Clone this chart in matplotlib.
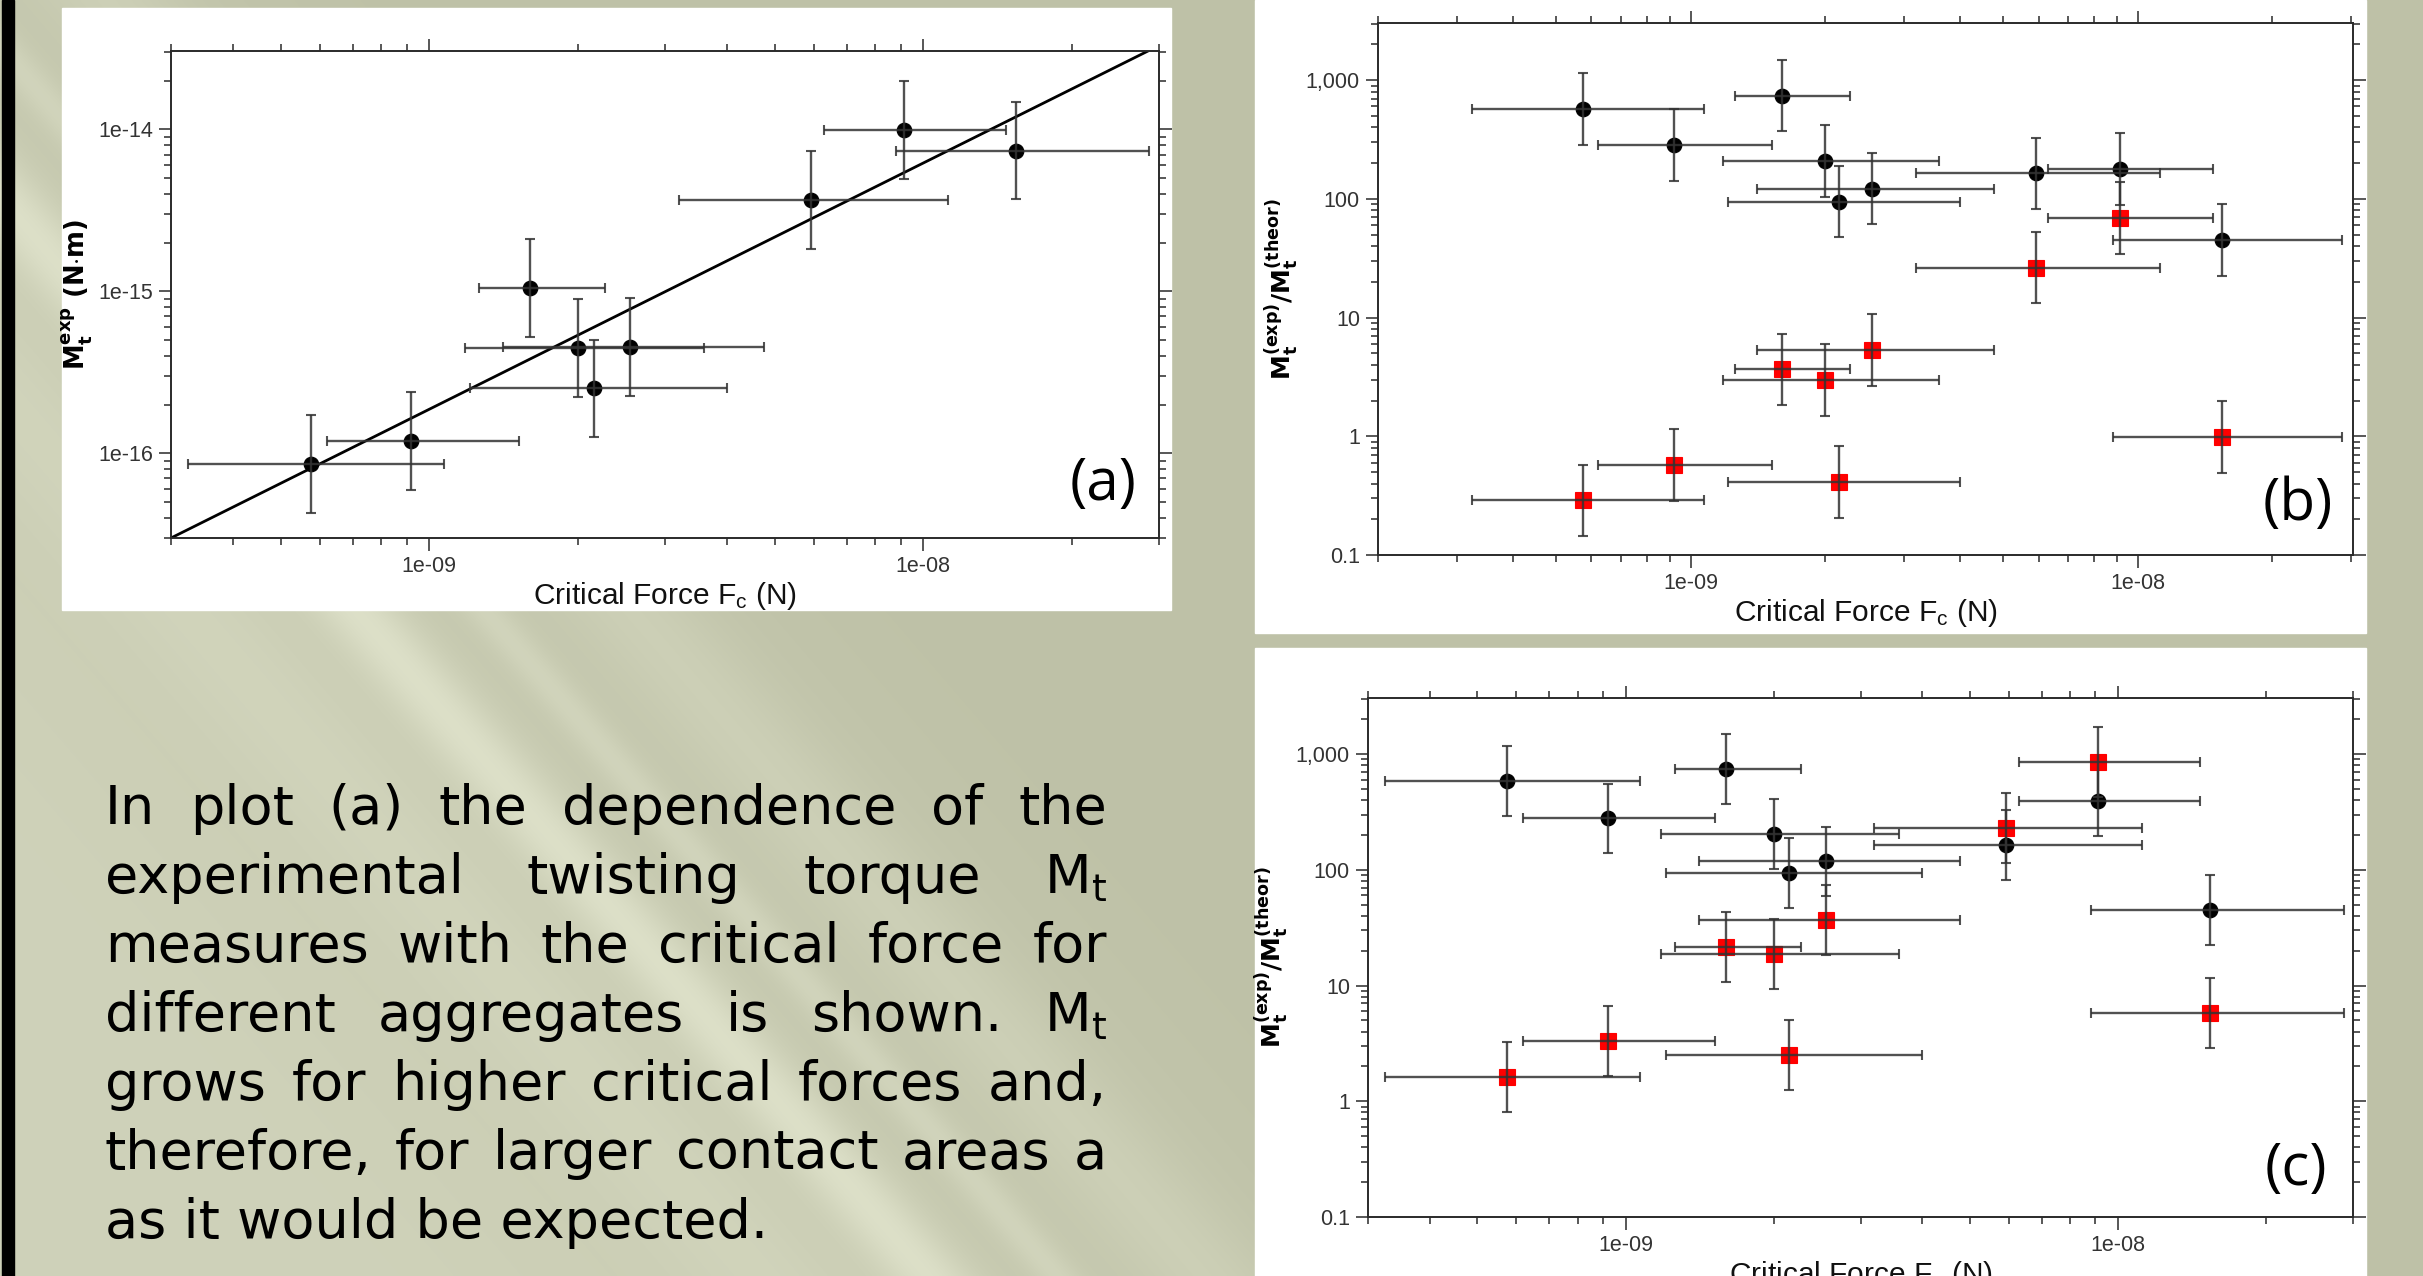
import numpy as np
import matplotlib
matplotlib.use('Agg')
import matplotlib.pyplot as plt
from matplotlib.patches import Rectangle
from matplotlib.ticker import FixedLocator, FixedFormatter, LogLocator, NullFormatter

# ---------------- data ----------------
force = [5.75e-10, 9.2e-10, 1.6e-9, 2.0e-9, 2.15e-9, 2.55e-9, 5.93e-9, 9.12e-9, 1.54e-8]
force_lo = [3.25e-10, 6.2e-10, 1.26e-9, 1.18e-9, 1.21e-9, 1.41e-9, 3.2e-9, 6.3e-9, 8.8e-9]
force_hi = [1.07e-9, 1.52e-9, 2.27e-9, 3.6e-9, 4.0e-9, 4.77e-9, 1.12e-8, 1.47e-8, 2.87e-8]

torque_exp = [8.6e-17, 1.19e-16, 1.05e-15, 4.48e-16, 2.52e-16, 4.53e-16, 3.66e-15, 9.9e-15, 7.4e-15]
fit_force = [3.0e-10, 2.85e-8]
fit_torque = [3.0e-17, 3.05e-14]

ratio_b_black = [570, 284, 740, 208, 95, 122, 164, 178, 44.9]
ratio_b_red = [0.289, 0.571, 3.67, 2.97, 0.413, 5.33, 26.4, 68.8, 0.986]
ratio_c_black = [582, 278, 741, 203, 94.4, 118, 163, 395, 45.2]
ratio_c_red = [1.61, 3.32, 21.6, 18.7, 2.5, 36.9, 229, 858, 5.8]
err_factor = 2.0  # multiplicative y uncertainty (bars span y/2 .. 2y)

x_ticks = [1e-9, 1e-8]
x_ticklabels = ['1e-09', '1e-08']
ya_ticks = [1e-16, 1e-15, 1e-14]
ya_ticklabels = ['1e-16', '1e-15', '1e-14']
yr_ticks = [0.1, 1, 10, 100, 1000]
yr_ticklabels = ['0.1', '1', '10', '100', '1,000']

body_lines = [
    "In plot (a) the dependence of the",
    "experimental twisting torque M$_\\mathsf{t}$",
    "measures with the critical force for",
    "different aggregates is shown. M$_\\mathsf{t}$",
    "grows for higher critical forces and,",
    "therefore, for larger contact areas a",
    "as it would be expected.",
]

# ---------------- figure ----------------
plt.rcParams['font.family'] = ['Liberation Sans', 'DejaVu Sans']
plt.rcParams['mathtext.fontset'] = 'custom'
plt.rcParams['mathtext.rm'] = 'Liberation Sans'
plt.rcParams['mathtext.it'] = 'Liberation Sans:italic'
plt.rcParams['mathtext.bf'] = 'DejaVu Sans:bold'
plt.rcParams['mathtext.sf'] = 'DejaVu Sans'

W, H, DPI = 2423, 1276, 100
fig = plt.figure(figsize=(W / DPI, H / DPI), dpi=DPI)

# background slide
bg = fig.add_axes([0, 0, 1, 1])
bg.set_axis_off()
Yg, Xg = np.mgrid[0:H:2, 0:W:2].astype(float)
s = Xg - 0.86 * Yg
f = 0.55 - 0.35 * np.clip((s + 700) / 1100.0, 0, 1)
f += 0.45 * np.exp(-((s + 168) / 45.0) ** 2)
f += 0.25 * np.exp(-((s + 40) / 25.0) ** 2)
f += 0.20 * np.exp(-((s - 110) / 70.0) ** 2)
f += 0.15 * np.exp(-((s + 330) / 90.0) ** 2)
f = np.clip(f, 0, 1)
dark = np.array([181, 184, 157]) / 255.0
light = np.array([228, 231, 208]) / 255.0
img = dark[None, None, :] + (light - dark)[None, None, :] * f[..., None]
bg.imshow(img, extent=[0, W, H, 0], aspect='auto', interpolation='bilinear', zorder=0)
bg.set_xlim(0, W)
bg.set_ylim(H, 0)

# black bar at left, white panel boxes
bg.add_patch(Rectangle((2, 0), 12, H, color='black', zorder=2))
bg.add_patch(Rectangle((62, 8), 1109, 602, color='white', zorder=2))
bg.add_patch(Rectangle((1255, 0), 1111, 633, color='white', zorder=2))
bg.add_patch(Rectangle((1255, 648), 1111, 640, color='white', zorder=2))


def px_axes(x0, y0, x1, y1):
    return fig.add_axes([x0 / W, 1 - y1 / H, (x1 - x0) / W, (y1 - y0) / H])


def style(ax, xlim, ylim, yt, ytl):
    ax.set_xscale('log')
    ax.set_yscale('log')
    ax.set_xlim(*xlim)
    ax.set_ylim(*ylim)
    ax.xaxis.set_major_locator(FixedLocator(x_ticks))
    ax.xaxis.set_major_formatter(FixedFormatter(x_ticklabels))
    ax.xaxis.set_minor_locator(LogLocator(base=10, subs=np.arange(2, 10), numticks=60))
    ax.xaxis.set_minor_formatter(NullFormatter())
    ax.yaxis.set_major_locator(FixedLocator(yt))
    ax.yaxis.set_major_formatter(FixedFormatter(ytl))
    ax.yaxis.set_minor_locator(LogLocator(base=10, subs=np.arange(2, 10), numticks=60))
    ax.yaxis.set_minor_formatter(NullFormatter())
    ax.tick_params(which='both', direction='out', top=True, right=True,
                   color='#2a2a2a', width=1.1, labelcolor='#333333')
    ax.tick_params(which='major', length=9, labelsize=15.5, pad=4)
    ax.tick_params(which='minor', length=5)
    for sp in ax.spines.values():
        sp.set_linewidth(1.4)
        sp.set_color('#2a2a2a')
    ax.set_facecolor('white')
    ax.set_xlabel('Critical Force F$_\\mathrm{c}$ (N)', fontsize=21.5, labelpad=2, color='#111111')


def draw_points(ax, yvals, marker, color, ms, zm):
    yv = np.array(yvals, dtype=float)
    xv = np.array(force)
    xerr = [xv - np.array(force_lo), np.array(force_hi) - xv]
    yerr = [yv - yv / err_factor, yv * err_factor - yv]
    ax.plot(xv, yv, linestyle='none', marker=marker, color=color, markersize=ms,
            markeredgewidth=0.8, markeredgecolor=color, zorder=zm)
    ax.errorbar(xv, yv, xerr=xerr, yerr=yerr, fmt='none', ecolor='#333333',
                elinewidth=1.7, capsize=3.3, capthick=1.5, alpha=0.85, zorder=zm + 1)


# ---------------- panel (a) ----------------
axa = px_axes(171, 51, 1159, 538)
style(axa, (3.0e-10, 3.0e-8), (3.0e-17, 3.05e-14), ya_ticks, ya_ticklabels)
axa.plot(fit_force, fit_torque, color='black', linewidth=2.0, zorder=2)
draw_points(axa, torque_exp, 'o', 'black', 10.5, 3)
axa.set_ylabel('$\\mathbf{M_t^{exp}}$ (N$\\cdot$m)', fontsize=18.5, fontweight='bold',
               family=['DejaVu Sans'], labelpad=2)

# ---------------- panel (b) ----------------
axb = px_axes(1378, 23, 2353, 555)
style(axb, (2.0e-10, 3.03e-8), (0.1, 3030), yr_ticks, yr_ticklabels)
draw_points(axb, ratio_b_black, 'o', 'black', 10.5, 3)
draw_points(axb, ratio_b_red, 's', '#ff0000', 12, 5)
axb.set_ylabel('$\\mathbf{M_t^{(exp)}/M_t^{(theor)}}$', fontsize=18, labelpad=4)

# ---------------- panel (c) ----------------
axc = px_axes(1368, 698, 2353, 1217)
style(axc, (3.0e-10, 3.0e-8), (0.1, 3050), yr_ticks, yr_ticklabels)
draw_points(axc, ratio_c_black, 'o', 'black', 10.5, 3)
draw_points(axc, ratio_c_red, 's', '#ff0000', 12, 5)
axc.set_ylabel('$\\mathbf{M_t^{(exp)}/M_t^{(theor)}}$', fontsize=18, labelpad=4)

# panel letters
for lab, (px, py) in {'(a)': (1103, 485), '(b)': (2298, 505), '(c)': (2296, 1170)}.items():
    fig.text(px / W, 1 - py / H, lab, fontsize=42, family=['Open Sans', 'DejaVu Sans'],
             ha='center', va='center', color='black')

# ---------------- justified body text ----------------
renderer = fig.canvas.get_renderer()
x_left, x_right = 105, 1107
base0, spacing = 824, 69
for i, line in enumerate(body_lines):
    yb = base0 + i * spacing
    if i == len(body_lines) - 1:
        bg.text(x_left, yb, line, fontsize=39, family=['DejaVu Sans'], va='baseline',
                ha='left', color='black', zorder=5)
        continue
    words = line.split(' ')
    ts = [bg.text(0, yb, w, fontsize=39, family=['DejaVu Sans'], va='baseline', ha='left',
                  color='black', zorder=5) for w in words]
    widths = [t.get_window_extent(renderer).width for t in ts]
    gap = (x_right - x_left - sum(widths)) / (len(words) - 1)
    xc = x_left
    for t, wd in zip(ts, widths):
        t.set_x(xc)
        xc += wd + gap

fig.savefig('out.png', dpi=DPI)
